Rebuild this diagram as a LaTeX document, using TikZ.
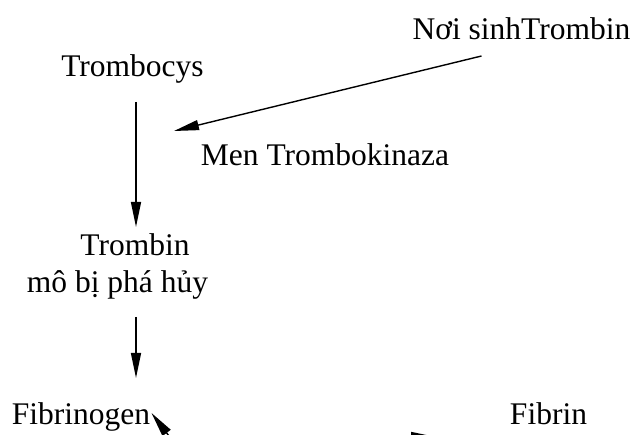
\documentclass[tikz,border=0pt]{standalone}
\usepackage{fontspec}
\setmainfont{Liberation Serif}
\usetikzlibrary{arrows.meta}
\begin{document}
\begin{tikzpicture}[x=1pt,y=-1pt,
  lbl/.style={inner sep=0pt,anchor=base,font=\fontsize{31.5}{38}\selectfont},
  conn/.style={line width=1.4pt,-{Triangle[length=25pt,width=10pt]}}]
\useasboundingbox (0,0) rectangle (638,435);
\clip (0,0) rectangle (638,435);
\node[lbl] (trombocys) at (132.5,77) {Trombocys};
\node[lbl] (noisinh) at (521.5,40) {Nơi sinhTrombin};
\node[lbl] (men) at (325,166) {Men Trombokinaza};
\node[lbl] (trombin) at (135,256) {Trombin};
\node[lbl] (mo) at (117.5,293) {mô bị phá hủy};
\node[lbl] (fibrinogen) at (81,425) {Fibrinogen};
\node[lbl] (fibrin) at (548.5,425) {Fibrin};
\coordinate (a1s) at (136,102);
\coordinate (a1e) at (136,227);
\coordinate (a2s) at (136,317);
\coordinate (a2e) at (136,378);
\coordinate (a3s) at (481.5,56);
\coordinate (a3e) at (174,131);
\coordinate (a4s) at (210,490);
\coordinate (a4e) at (151.5,413);
\coordinate (a5s) at (300,437);
\coordinate (a5e) at (436,437);
\draw[conn] (a1s) -- (a1e);
\draw[conn] (a2s) -- (a2e);
\draw[conn] (a3s) -- (a3e);
\draw[conn] (a4s) -- (a4e);
\draw[conn] (a5s) -- (a5e);
\end{tikzpicture}
\end{document}
